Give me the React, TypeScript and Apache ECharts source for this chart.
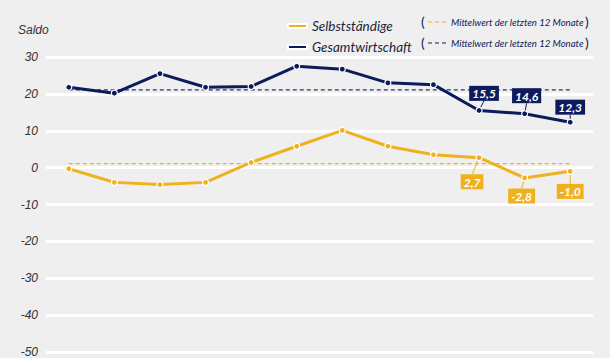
import React, { useEffect, useRef } from "react";
import * as echarts from "echarts";

const months = ["1", "2", "3", "4", "5", "6", "7", "8", "9", "10", "11", "12"];
const gesamtValues = [21.8, 20.2, 25.5, 21.8, 22.0, 27.5, 26.7, 23.0, 22.5, 15.5, 14.6, 12.3];
const selbstValues = [-0.3, -4.0, -4.6, -4.0, 1.4, 5.8, 10.1, 5.8, 3.5, 2.7, -2.8, -1.0];
const gesamtMean = 21.1;
const selbstMean = 1.1;
const labelledFrom = 9;
const yTicks = { min: -50, max: 30, interval: 10 };

const NAVY = "#0c1b5c";
const ORANGE = "#efb21e";
const fmt = (v: number) => v.toFixed(1).replace(".", ",");

const gesamtOffsets = [
  [5, -2],
  [2, -3],
  [0, 0],
];
const selbstOffsets = [
  [-7, 9],
  [-3, 3],
  [0, 5],
];

export default function App() {
  const ref = useRef<HTMLDivElement>(null);
  useEffect(() => {
    document.body.style.margin = "0";
    const chart = echarts.init(ref.current!, null, { renderer: "svg" });
    const mkData = (vals: number[], color: string) =>
      vals.map((v, i) => ({
        value: v,
        label:
          i >= labelledFrom
            ? {
                show: true,
                formatter: fmt(v),
                backgroundColor: color,
                color: "#fff",
                fontStyle: "italic",
                fontWeight: "bold",
                fontFamily: "Lato",
                fontSize: 12,
                lineHeight: 12,
                padding: [2, 3, 1, 3],
              }
            : { show: false },
      }));
    const mean = (m: number) => months.map(() => m);
    chart.setOption({
      animation: false,
      backgroundColor: "#efefef",
      grid: { left: 46, right: 17, top: 57, bottom: 5 },
      legend: {
        data: ["Selbstständige", "Gesamtwirtschaft"],
        orient: "vertical",
        left: 282,
        top: 14,
        icon: "rect",
        itemWidth: 19,
        itemHeight: 4,
        itemGap: 7,
        textStyle: {
          fontFamily: "Lato",
          fontStyle: "italic",
          fontSize: 13.5,
          lineHeight: 14,
          color: "#1a1f3a",
        },
      },
      graphic: [
        {
          type: "text",
          left: 18,
          top: 24,
          style: { text: "Saldo", fontFamily: "Liberation Sans", fontStyle: "italic", fontSize: 12, fill: "#333" },
        },
        ...[
          { y: 21, color: ORANGE },
          { y: 42, color: NAVY },
        ].flatMap((r) => [
          {
            type: "text",
            x: 421,
            y: r.y,
            style: { text: "(", fontFamily: "Lato", fontSize: 14, fill: NAVY, verticalAlign: "middle" },
          },
          {
            type: "line",
            shape: { x1: 428, y1: r.y + 1, x2: 446, y2: r.y + 1 },
            style: { stroke: r.color, lineWidth: 1.2, lineDash: [4, 3] },
          },
          {
            type: "text",
            x: 451,
            y: r.y + 1,
            style: {
              text: "Mittelwert der letzten 12 Monate",
              fontFamily: "Lato",
              fontStyle: "italic",
              fontSize: 9.6,
              fill: NAVY,
              verticalAlign: "middle",
            },
          },
          {
            type: "text",
            x: 585,
            y: r.y,
            style: { text: ")", fontFamily: "Lato", fontSize: 14, fill: NAVY, verticalAlign: "middle" },
          },
        ]),
      ],
      xAxis: {
        type: "category",
        data: months,
        boundaryGap: true,
        axisLine: { show: false },
        axisTick: { show: false },
        axisLabel: { show: false },
      },
      yAxis: {
        type: "value",
        min: yTicks.min,
        max: yTicks.max,
        interval: yTicks.interval,
        axisLine: { show: false },
        axisTick: { show: false },
        axisLabel: {
          fontFamily: "Liberation Sans",
          fontStyle: "italic",
          fontSize: 12,
          color: "#333",
          margin: 8,
        },
        splitLine: { lineStyle: { color: "#ffffff", width: 3 } },
      },
      series: [
        {
          name: "Selbstständige Mittelwert",
          type: "line",
          data: mean(selbstMean),
          symbol: "none",
          silent: true,
          lineStyle: { color: ORANGE, width: 1.2, type: [4, 3] },
          z: 1,
        },
        {
          name: "Gesamtwirtschaft Mittelwert",
          type: "line",
          data: mean(gesamtMean),
          symbol: "none",
          silent: true,
          lineStyle: { color: "#2a3468", width: 1.2, type: [4, 3] },
          z: 1,
        },
        {
          name: "Selbstständige",
          type: "line",
          data: mkData(selbstValues, ORANGE),
          color: ORANGE,
          symbol: "circle",
          symbolSize: 6,
          itemStyle: { color: ORANGE, borderColor: "#fff", borderWidth: 1.2 },
          lineStyle: { color: ORANGE, width: 3 },
          label: { position: "bottom", distance: 4 },
          labelLine: { show: true, lineStyle: { color: ORANGE, width: 1 } },
          labelLayout: (p: any) => {
            const o = selbstOffsets[p.dataIndex - labelledFrom];
            return o ? { dx: o[0], dy: o[1] } : {};
          },
          z: 3,
        },
        {
          name: "Gesamtwirtschaft",
          type: "line",
          data: mkData(gesamtValues, NAVY),
          color: NAVY,
          symbol: "circle",
          symbolSize: 6,
          itemStyle: { color: NAVY, borderColor: "#fff", borderWidth: 1.2 },
          lineStyle: { color: NAVY, width: 3 },
          label: { position: "top", distance: 4 },
          labelLine: { show: true, lineStyle: { color: NAVY, width: 1 } },
          labelLayout: (p: any) => {
            const o = gesamtOffsets[p.dataIndex - labelledFrom];
            return o ? { dx: o[0], dy: o[1] } : {};
          },
          z: 3,
        },
      ],
    });
    return () => chart.dispose();
  }, []);
  return <div ref={ref} style={{ width: 610, height: 358 }} />;
}
